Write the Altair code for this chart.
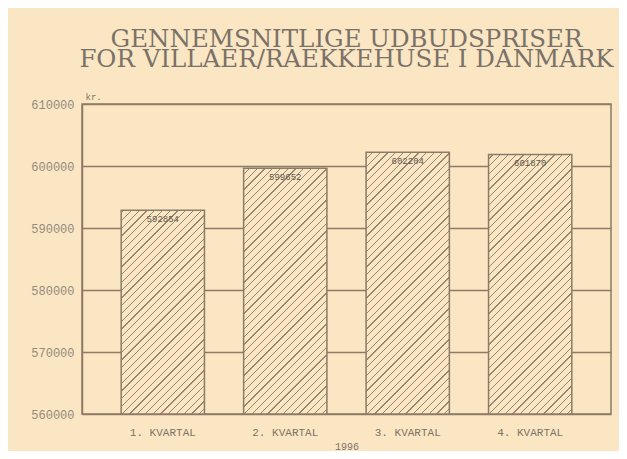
import altair as alt
import pandas as pd

quarters = ["1. KVARTAL", "2. KVARTAL", "3. KVARTAL", "4. KVARTAL"]
prices = [592854, 599652, 602204, 601870]
y_ticks = [560000, 570000, 580000, 590000, 600000, 610000]

BG = "#fbe6c4"
LINE = "#8c7b66"
HATCH = "#968570"

df = pd.DataFrame({"q": quarters, "v": prices})

W, H = 529, 310
YMIN, YMAX = 560000, 610000
SEG = 5000                      # hatch tile height in data units (31 px)
PX_PER_UNIT = H / (YMAX - YMIN)
SEG_PX = SEG * PX_PER_UNIT
P = SEG_PX / 4                  # hatch period along x+y
THICK = 1.3
BAR_W = W / (4 - 0.32 + 0.64) * (1 - 0.32)

# hatch tiles derived from the bar values
rows = []
for q, v in zip(quarters, prices):
    lo = YMIN
    while lo < v:
        hi = min(lo + SEG, v)
        rows.append({"q": q, "lo": lo, "hi": hi, "full": hi - lo == SEG})
        lo += SEG
tiles = pd.DataFrame(rows)


def grad(hs, phase):
    w = BAR_W
    total = w + hs
    r = hs / w
    k = (1 + r) / (1 + r * r)
    stops = []
    c = phase - P
    while c < total:
        ls = max(c, 0)
        le = max(min(c + THICK, total), 0)
        ge = max(min(c + P, total), 0)
        if le > ls:
            stops += [{"offset": ls / total, "color": HATCH}, {"offset": le / total, "color": HATCH}]
        if ge > le:
            stops += [{"offset": le / total, "color": BG}, {"offset": ge / total, "color": BG}]
        c += P
    return {"gradient": "linear", "x1": 0, "y1": 0, "x2": k, "y2": k * r, "stops": stops}


x_enc = alt.X(
    "q:N",
    sort=quarters,
    scale=alt.Scale(paddingInner=0.32, paddingOuter=0.32),
    axis=alt.Axis(
        title="1996",
        labelAngle=0,
        ticks=False,
        domain=False,
        labelPadding=12,
        labelFont="Liberation Mono",
        labelFontSize=11,
        labelColor="#7d7366",
        titleFont="Liberation Mono",
        titleFontSize=10,
        titleFontWeight="normal",
        titleColor="#7d7366",
        titlePadding=4,
    ),
)
y_axis = alt.Axis(
    values=y_ticks,
    format="d",
    ticks=False,
    grid=True,
    gridColor=LINE,
    gridWidth=1.5,
    gridOpacity=1,
    domainColor=LINE,
    domainWidth=1.5,
    labelPadding=8,
    labelFont="Liberation Mono",
    labelFontSize=12,
    labelColor="#948a7c",
    title="kr.",
    titleAngle=0,
    titleAlign="left",
    titleBaseline="bottom",
    titleX=3,
    titleY=-3,
    titleFont="Liberation Mono",
    titleFontSize=9,
    titleFontWeight="normal",
    titleColor="#7d7366",
)
y_scale = alt.Scale(domain=[YMIN, YMAX], nice=False, zero=False)

layers = []
# full tiles (same size everywhere)
layers.append(
    alt.Chart(tiles)
    .transform_filter(alt.datum.full)
    .mark_bar(fill=grad(SEG_PX, 0.0), strokeWidth=0)
    .encode(x=x_enc, y=alt.Y("lo:Q", scale=y_scale, axis=y_axis), y2="hi:Q")
)
# top partial tiles, one per bar
for q, v in zip(quarters, prices):
    rem = (v - YMIN) % SEG
    if rem == 0:
        continue
    hp = rem * PX_PER_UNIT
    layers.append(
        alt.Chart(tiles)
        .transform_filter((alt.datum.q == q) & (~alt.datum.full))
        .mark_bar(fill=grad(hp, hp % P), strokeWidth=0)
        .encode(x=alt.X("q:N", sort=quarters), y="lo:Q", y2="hi:Q")
    )

outline = (
    alt.Chart(df)
    .mark_bar(fillOpacity=0, stroke=LINE, strokeWidth=1.5, clip=True)
    .encode(x=alt.X("q:N", sort=quarters), y="v:Q", y2=alt.Y2Datum(YMIN))
)

labels = (
    alt.Chart(df)
    .mark_text(font="Liberation Mono", fontSize=9, color="#5f574d", baseline="top", dy=5)
    .encode(x=alt.X("q:N", sort=quarters), y="v:Q", text=alt.Text("v:Q", format="d"))
)

chart = (
    alt.layer(*layers, outline, labels)
    .properties(
        width=W,
        height=H,
        background=BG,
        padding={"left": 74, "top": 96, "right": 8, "bottom": 37},
        autosize=alt.AutoSizeParams(type="none"),
        title=alt.TitleParams(
            text=["GENNEMSNITLIGE UDBUDSPRISER", "FOR VILLAER/RAEKKEHUSE I DANMARK"],
            font="DejaVu Serif",
            fontSize=24.5,
            fontWeight="normal",
            lineHeight=20,
            color="#7a7168",
            anchor="middle",
            baseline="bottom",
            offset=34,
            dy=38,
        ),
    )
    .configure_view(stroke=LINE, strokeWidth=1.5)
)

chart.save("out.html", embed_options={"renderer": "svg", "actions": False})
